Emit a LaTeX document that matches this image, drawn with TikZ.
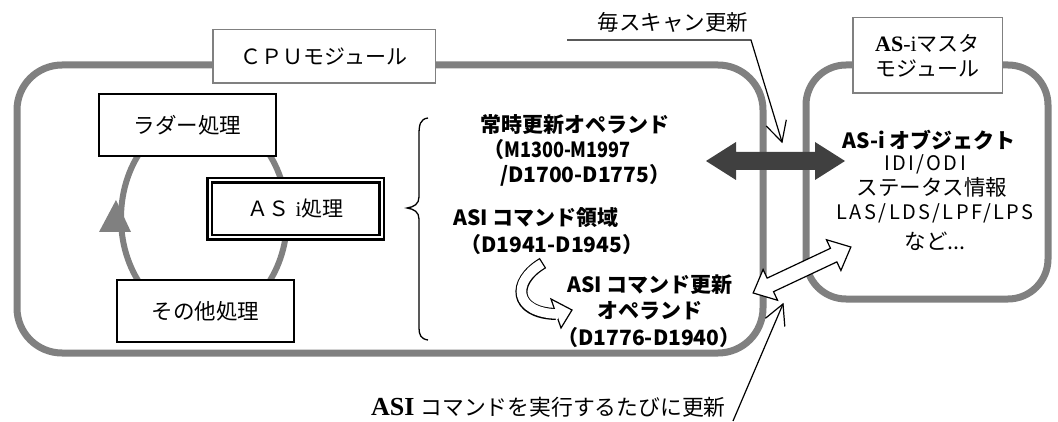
\documentclass[tikz,border=0pt]{standalone}
\usepackage{fontspec}
\setmainfont{Liberation Serif}
\newfontfamily\jp{Noto Sans CJK JP}
\newfontfamily\jpsp{Noto Sans CJK JP}[LetterSpace=12]
\newfontfamily\jpn{Noto Sans CJK JP}[FakeStretch=0.86]
\usetikzlibrary{arrows.meta}
\definecolor{modgray}{RGB}{128,128,128}
\definecolor{darkarrow}{RGB}{64,64,64}
\begin{document}
\begin{tikzpicture}[x=1pt,y=-1pt,
  modframe/.style={draw=modgray,line width=7pt,rounded corners=#1},
  labelbox/.style={draw=modgray,line width=1.5pt,fill=white,inner sep=0pt,font=\jp\fontsize{21}{25}\selectfont,align=center},
  procbox/.style={draw=black,line width=2pt,fill=white,minimum width=177pt,minimum height=62pt,inner sep=0pt,font=\jp\fontsize{21.5}{25}\selectfont},
  dblbox/.style={draw=black,line width=2.5pt,double=white,double distance=2pt,fill=white,minimum width=172pt,minimum height=57pt,inner sep=0pt,font=\jp\fontsize{21}{25}\selectfont},
  btxt/.style={font=\jp\bfseries\fontsize{21}{25}\selectfont,inner sep=0pt},
  rtxt/.style={font=\jp\fontsize{21.5}{25}\selectfont,inner sep=0pt},
  sptxt/.style={font=\jpsp\fontsize{20}{24}\selectfont,inner sep=0pt},
  pline/.style={line width=1.2pt,line join=miter},
  hollow/.style={draw=black,fill=white,line width=1.2pt,line join=miter}
]
\useasboundingbox (0,0) rectangle (1058,422);
% module frames
\draw[modframe=45pt] (17,65) rectangle (763,353);
\draw[modframe=40pt] (806,65) rectangle (1048,299);
\node[labelbox,minimum width=222.5pt,minimum height=53.5pt] (cpulabel) at (324,56.5) {ＣＰＵモジュール};
\node[labelbox,minimum width=149.5pt,minimum height=75.5pt] (asilabel) at (927.5,55.5)
  {{\rmfamily\fontsize{22}{25}\selectfont\textbf{AS}-i}マスタ\\モジュール};
% processing cycle
\draw[modgray,line width=6pt] (204,218) ellipse [x radius=83pt,y radius=103pt];
\fill[modgray] (99,232) -- (131,232) -- (116,200) -- cycle;
\node[procbox] (ladder) at (187.5,125) {ラダー処理};
\node[dblbox] (asiproc) at (295.5,209) {ＡＳ\hspace{6pt}{\rmfamily i}処理};
\node[procbox] (other) at (205.5,311) {その他処理};
% brace
\draw[line width=1.3pt] (428,118) .. controls (420,119) and (419,125) .. (419,135) -- (419,197)
  .. controls (419,204) and (414,207) .. (407,208) .. controls (414,209) and (419,212) .. (419,219)
  -- (419,328) .. controls (419,335) and (421,339) .. (428,340);
% operand texts
\node[btxt] (const) at (575,125) {常時更新オペランド};
\node[btxt,anchor=west] (constA) at (483,150) {（{\jpn\bfseries M1300-M1997}};
\node[btxt,anchor=west] (constB) at (500,175) {/D1700-D1775）};
\node[btxt,anchor=west] (cmdarea) at (453,218) {ASI コマンド領域};
\node[btxt,anchor=west] (cmdareaR) at (460,245) {（D1941-D1945）};
\node[btxt] (cmdop) at (650,285) {ASI コマンド更新};
\node[btxt] (cmdopB) at (650,311) {オペランド};
\node[btxt] (cmdopR) at (649,338) {（D1776-D1940）};
% AS-i object texts
\node[btxt] (obj) at (929,140) {AS-i オブジェクト};
\node[sptxt] (idi) at (925,164) {IDI/ODI};
\node[rtxt] (stat) at (932,187) {ステータス情報};
\node[sptxt] (las) at (935,213) {LAS/LDS/LPF/LPS};
\node[rtxt] (etc) at (935,241) {など...};
% curved hollow arrow
\coordinate (ca) at (543,263);
\coordinate (cb) at (556,314);
\draw[line width=12pt,black] (ca) .. controls (511,282) and (514,313) .. (cb);
\draw[hollow] (551,299) -- (572,310) -- (561,328) -- cycle;
\draw[line width=9.6pt,white,shorten <=1.3pt,shorten >=-2pt] (ca) .. controls (511,282) and (514,313) .. (cb);
% dark double arrow
\fill[darkarrow] (706,161) -- (736,142) -- (736,152) -- (815,152) -- (815,142) -- (845,161)
  -- (815,180) -- (815,170) -- (736,170) -- (736,180) -- cycle;
% white double arrow
\begin{scope}[shift={(802,270)},rotate=25.2]
\draw[hollow] (-54,0) -- (-35,17) -- (-35,7.5) -- (35,7.5) -- (35,17) -- (54,0) -- (35,-17)
  -- (35,-7.5) -- (-35,-7.5) -- (-35,-17) -- cycle;
\end{scope}
% pointer labels
\node[rtxt] (scan) at (673,22) {毎スキャン更新};
\coordinate (s0) at (567,40);
\coordinate (s1) at (751,40);
\coordinate (s2) at (782,142);
\coordinate (sl) at (766.2,126);
\coordinate (sr) at (786.3,119.8);
\draw[pline] (s0) -- (s1) -- (s2);
\draw[pline] (sl) -- (s2) -- (sr);
\node[rtxt,anchor=west,font=\jp\fontsize{21.8}{25}\selectfont] (cmdexec) at (371,407) {{\rmfamily\bfseries\fontsize{26}{28}\selectfont ASI}\hspace{6pt}コマンドを実行するたびに更新};
\coordinate (b0) at (733,421);
\coordinate (b1) at (783,304);
\coordinate (bl) at (765.4,318.3);
\coordinate (br) at (784.8,326.5);
\draw[pline] (b0) -- (b1);
\draw[pline] (bl) -- (b1) -- (br);
\end{tikzpicture}
\end{document}
